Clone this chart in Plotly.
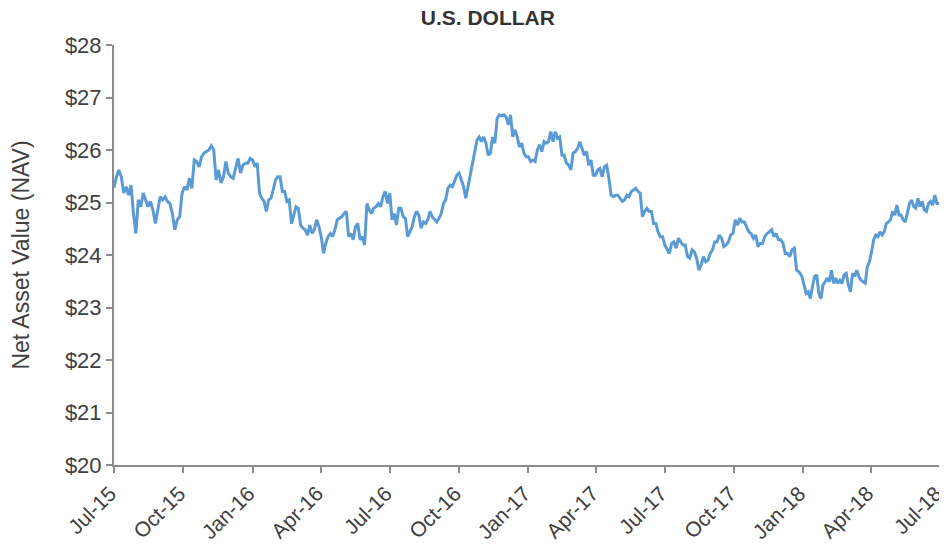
import pandas as pd
import plotly.graph_objects as go

# NAV readings per half-year
nav_2015_h2 = [25.28, 25.49, 25.62, 25.49, 25.18, 25.30, 25.14, 25.33, 24.79, 24.41, 25.05, 24.92, 25.18, 25.05,
               24.92, 25.02, 24.86, 24.60, 24.86, 25.11, 25.05, 25.11, 25.02, 24.98, 24.79, 24.48, 24.67, 24.73,
               25.18, 25.30, 25.24, 25.46, 25.27, 25.81, 25.78, 25.68, 25.87, 25.94, 25.97, 26.00, 26.08, 26.00,
               25.43, 25.62, 25.37, 25.49, 25.78, 25.56, 25.49, 25.46, 25.65, 25.84, 25.56, 25.71, 25.75, 25.75,
               25.84]
nav_2016_h1 = [25.81, 25.68, 25.75, 25.18, 25.08, 25.02, 24.83, 25.05, 25.08, 25.24, 25.43, 25.49, 25.49, 25.21,
               25.21, 25.02, 25.05, 24.60, 24.79, 24.92, 24.89, 24.57, 24.51, 24.48, 24.38, 24.57, 24.41, 24.48,
               24.67, 24.54, 24.35, 24.03, 24.22, 24.35, 24.41, 24.35, 24.48, 24.67, 24.70, 24.73, 24.79, 24.83,
               24.35, 24.41, 24.29, 24.54, 24.60, 24.29, 24.35, 24.19, 24.98, 24.86, 24.79, 24.89, 24.92, 24.98,
               24.92, 25.11, 25.21, 24.98]
nav_2016_h2 = [25.18, 24.67, 24.79, 24.57, 24.89, 24.89, 24.73, 24.70, 24.35, 24.44, 24.54, 24.73, 24.83, 24.76,
               24.51, 24.63, 24.60, 24.67, 24.83, 24.73, 24.67, 24.63, 24.70, 24.79, 24.98, 25.05, 25.27, 25.33,
               25.30, 25.43, 25.52, 25.56, 25.43, 25.30, 25.08, 25.30, 25.52, 25.81, 26.00, 26.19, 26.25, 26.16,
               26.25, 26.13, 25.90, 25.94, 26.25, 26.13, 26.60, 26.67, 26.65, 26.67, 26.63, 26.48, 26.67, 26.25,
               26.38, 26.25, 26.06, 26.13, 25.94, 25.87]
nav_2017_h1 = [25.87, 25.78, 25.81, 25.78, 26.00, 26.10, 25.97, 26.16, 26.13, 26.16, 26.35, 26.16, 26.35, 26.22,
               26.25, 25.90, 25.90, 25.75, 25.71, 25.62, 25.94, 25.97, 26.03, 26.16, 26.03, 25.90, 25.97, 25.71,
               25.81, 25.52, 25.52, 25.62, 25.65, 25.49, 25.68, 25.71, 25.46, 25.14, 25.11, 25.14, 25.14, 25.08,
               25.02, 25.05, 25.14, 25.11, 25.21, 25.24, 25.27, 25.21, 25.18, 24.73, 24.83, 24.89, 24.83, 24.83,
               24.60, 24.60, 24.44, 24.35, 24.35]
nav_2017_h2 = [24.19, 24.10, 24.03, 24.22, 24.25, 24.13, 24.32, 24.25, 24.19, 24.19, 23.97, 23.94, 24.10, 24.06,
               23.94, 23.71, 23.81, 23.97, 23.87, 23.90, 24.03, 24.10, 24.25, 24.25, 24.38, 24.32, 24.16, 24.19,
               24.25, 24.38, 24.41, 24.67, 24.57, 24.70, 24.63, 24.63, 24.54, 24.44, 24.41, 24.32, 24.38, 24.16,
               24.22, 24.22, 24.35, 24.41, 24.44, 24.48, 24.35, 24.41, 24.29, 24.29, 24.22, 24.03, 24.03, 23.97,
               24.10, 24.13, 23.71, 23.68, 23.62]
nav_2018_h1 = [23.59, 23.43, 23.27, 23.30, 23.17, 23.40, 23.59, 23.62, 23.27, 23.17, 23.43, 23.49, 23.56, 23.49,
               23.71, 23.46, 23.56, 23.46, 23.52, 23.46, 23.62, 23.65, 23.43, 23.30, 23.65, 23.59, 23.71, 23.59,
               23.52, 23.49, 23.46, 23.78, 23.87, 24.06, 24.29, 24.38, 24.35, 24.44, 24.38, 24.44, 24.60, 24.63,
               24.67, 24.83, 24.76, 24.95, 24.76, 24.76, 24.67, 24.63, 24.79, 24.98, 25.05, 24.92, 24.89, 25.08,
               24.92, 25.02, 24.86, 24.83, 24.98, 25.02, 24.95, 25.14, 24.98, 24.98]

half_years = [("2015-07-01", "2016-01-01", nav_2015_h2),
              ("2016-01-01", "2016-07-01", nav_2016_h1),
              ("2016-07-01", "2017-01-01", nav_2016_h2),
              ("2017-01-01", "2017-07-01", nav_2017_h1),
              ("2017-07-01", "2018-01-01", nav_2017_h2),
              ("2017-12-30", "2018-07-01", nav_2018_h1)]

tick_dates = ["2015-07-01", "2015-10-01", "2016-01-01", "2016-04-01", "2016-07-01", "2016-10-01",
              "2017-01-01", "2017-04-01", "2017-07-01", "2017-10-01", "2018-01-01", "2018-04-01", "2018-07-01"]
tick_labels = ["Jul-15", "Oct-15", "Jan-16", "Apr-16", "Jul-16", "Oct-16", "Jan-17", "Apr-17",
               "Jul-17", "Oct-17", "Jan-18", "Apr-18", "Jul-18"]
y_ticks = [20, 21, 22, 23, 24, 25, 26, 27, 28]
y_labels = ["$" + str(v) for v in y_ticks]

dates, values = [], []
for i, (s, e, vals) in enumerate(half_years):
    if i == len(half_years) - 1:
        d = pd.date_range(s, pd.Timestamp(e) - pd.Timedelta(days=1), periods=len(vals))
    else:
        d = pd.date_range(s, e, periods=len(vals) + 1)[:-1]
    dates.extend(d)
    values.extend(vals)

font_family = "Liberation Sans, Arial, sans-serif"
text_color = "#404040"
axis_color = "#8C8C8C"

fig = go.Figure()
fig.add_trace(go.Scatter(x=dates, y=values, mode="lines",
                         line=dict(color="#5B9BD5", width=3), hoverinfo="x+y"))

# the page body adds an 8px offset, so the figure is 939x540
fig.update_layout(
    width=939, height=540,
    margin=dict(l=106, r=7, t=37, b=83),
    plot_bgcolor="white", paper_bgcolor="white",
    showlegend=False,
    title=dict(text="<b>U.S. DOLLAR</b>", x=0.511, xanchor="center", y=0.996, yanchor="top",
               yref="container", pad=dict(t=0, b=0),
               font=dict(family=font_family, size=21, color="#333333")),
    font=dict(family=font_family, color=text_color),
)
fig.update_xaxes(
    type="date", range=["2015-07-01", "2018-07-01 06:00"], automargin=False,
    tickmode="array", tickvals=tick_dates, ticktext=tick_labels, tickangle=-45,
    ticklabeloverflow="allow", ticklabelshift=-4,
    tickfont=dict(size=21, color=text_color),
    showgrid=False, zeroline=False,
    showline=True, linecolor=axis_color, linewidth=2,
    ticks="outside", ticklen=6, tickwidth=2, tickcolor=axis_color,
)
fig.update_yaxes(
    range=[20, 28], tickmode="array", tickvals=y_ticks, ticktext=y_labels, automargin=False,
    tickfont=dict(size=22, color=text_color),
    title=dict(text="Net Asset Value (NAV)", font=dict(size=23, color=text_color), standoff=38),
    showgrid=False, zeroline=False,
    showline=True, linecolor=axis_color, linewidth=2,
    ticks="outside", ticklen=6, tickwidth=2, tickcolor=axis_color,
)

fig.write_html("out.html")
